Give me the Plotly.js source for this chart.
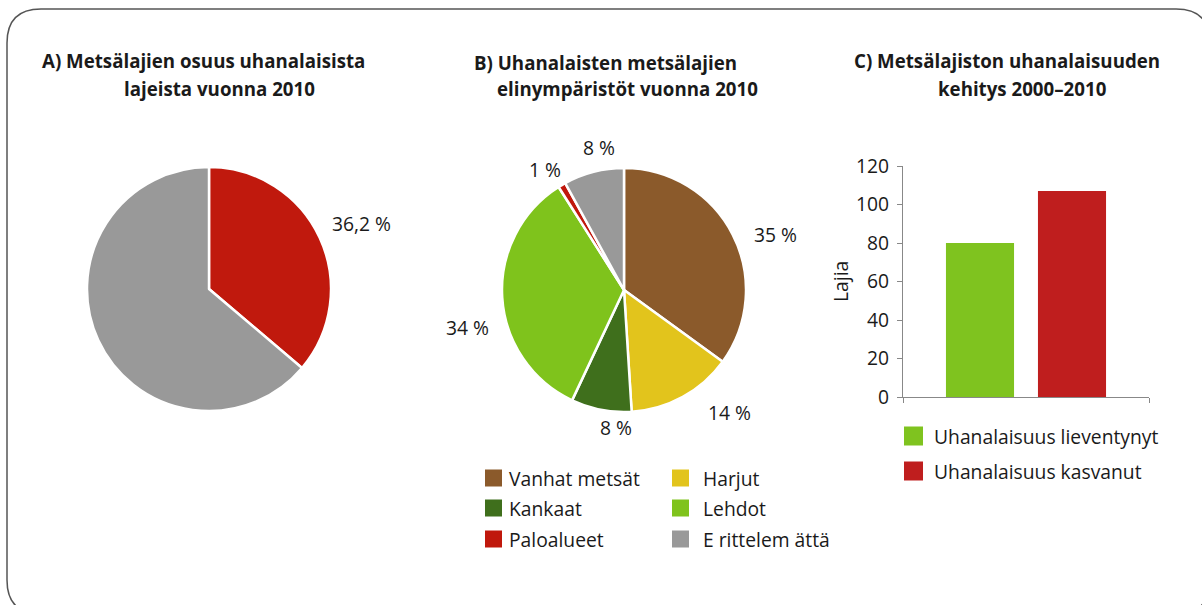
<!DOCTYPE html>
<html>
<head>
<meta charset="utf-8">
<script src="https://cdn.plot.ly/plotly-3.0.1.min.js"></script>
<style>html,body{margin:0;padding:0;background:#fff;}#chart{width:1202px;height:605px;}</style>
</head>
<body>
<div id="chart"></div>
<script>
// ---- data ----
const titleA = ['A) Metsälajien osuus uhanalaisista', 'lajeista vuonna 2010'];
const titleB = ['B) Uhanalaisten metsälajien', 'elinympäristöt vuonna 2010'];
const titleC = ['C) Metsälajiston uhanalaisuuden', 'kehitys 2000–2010'];

const pieALabels = ['Metsälajit', 'Muut uhanalaiset lajit'];
const pieAValues = [36.2, 63.8];
const pieAColors = ['#C0190D', '#999999'];

const pieBLabels = ['Vanhat metsät', 'Harjut', 'Kankaat', 'Lehdot', 'Paloalueet', 'E rittelem ättä'];
const pieBValues = [35, 14, 8, 34, 1, 8];
const pieBColors = ['#8B5A2B', '#E2C41C', '#3F6F1C', '#7FC31C', '#C0180C', '#999999'];

const barNames = ['Uhanalaisuus lieventynyt', 'Uhanalaisuus kasvanut'];
const barValues = [80, 107];
const barColors = ['#7FC31F', '#BF1E1E'];
const yTickVals = [0, 20, 40, 60, 80, 100, 120];
const yTitle = 'Lajia';

// ---- helpers (pixel -> paper) ----
const W = 1202, H = 605;
const px = x => x / W;
const py = y => 1 - y / H;
const FONT = '"Open Sans", sans-serif';
const TXT = '#1a1a1a';
const FS = 19.3;

const traces = [];
traces.push({
  type: 'pie', labels: pieALabels, values: pieAValues, sort: false, direction: 'clockwise', rotation: 0,
  marker: {colors: pieAColors, line: {color: '#ffffff', width: 2.5}},
  textinfo: 'none', hoverinfo: 'label+percent', showlegend: false,
  domain: {x: [px(87), px(331)], y: [py(411), py(167)]}
});
traces.push({
  type: 'pie', labels: pieBLabels, values: pieBValues, sort: false, direction: 'clockwise', rotation: 0,
  marker: {colors: pieBColors, line: {color: '#ffffff', width: 2.5}},
  textinfo: 'none', hoverinfo: 'label+percent', showlegend: false,
  domain: {x: [px(502), px(746)], y: [py(412), py(168)]}
});
barNames.forEach((n, i) => {
  traces.push({
    type: 'bar', name: n, x: [0], y: [barValues[i]], marker: {color: barColors[i]},
    xaxis: 'x', yaxis: 'y', showlegend: false
  });
});

const annotations = [];
function addText(text, x, y, opts) {
  annotations.push(Object.assign({
    text: text, x: px(x), y: py(y), xref: 'paper', yref: 'paper', showarrow: false,
    xanchor: 'center', yanchor: 'middle', font: {family: FONT, size: FS, color: TXT}
  }, opts || {}));
}
// titles
const titleFont = {family: FONT, size: 18.7, color: TXT, weight: 'bold'};
addText('<b>' + titleA[0] + '</b>', 203, 61, {font: titleFont});
addText('<b>' + titleA[1] + '</b>', 219, 88, {font: titleFont});
addText('<b>' + titleB[0] + '</b>', 605, 62, {font: titleFont});
addText('<b>' + titleB[1] + '</b>', 627, 88, {font: titleFont});
addText('<b>' + titleC[0] + '</b>', 1007, 61, {font: titleFont});
addText('<b>' + titleC[1] + '</b>', 1022, 88, {font: titleFont});

// pie A label
addText(pieAValues[0].toString().replace('.', ',') + ' %', 361, 224);
// pie B labels
const pieBLabelPos = [[775, 234], [729, 412], [616, 427], [467, 328], [545, 170], [599, 148]];
pieBValues.forEach((v, i) => addText(v + ' %', pieBLabelPos[i][0], pieBLabelPos[i][1]));

// y axis title
addText(yTitle, 840, 282, {textangle: -90});

const shapes = [];
// legend B (two columns)
pieBLabels.forEach((lab, i) => {
  const col = i % 2, row = Math.floor(i / 2);
  const sx = col === 0 ? 485 : 672;
  const tx = col === 0 ? 507 : 701;
  const cy = [478, 508, 539][row];
  shapes.push({type: 'rect', xref: 'paper', yref: 'paper', x0: px(sx), x1: px(sx + 17), y0: py(cy + 8.5), y1: py(cy - 8.5),
    fillcolor: pieBColors[i], line: {width: 0}});
  addText(lab, tx, cy, {xanchor: 'left'});
});
// legend C
barNames.forEach((n, i) => {
  const cy = [436, 471][i];
  shapes.push({type: 'rect', xref: 'paper', yref: 'paper', x0: px(904), x1: px(923), y0: py(cy + 9.5), y1: py(cy - 9.5),
    fillcolor: barColors[i], line: {width: 0}});
  addText(n, 932, cy, {xanchor: 'left'});
});

// rounded border
(function () {
  const l = 7, t = 9, r = 1210, b = 614, rad = 34;
  const p = (x, y) => px(x) + ',' + py(y);
  const path = 'M ' + p(l + rad, t) + ' L ' + p(r - rad, t) + ' Q ' + p(r, t) + ' ' + p(r, t + rad) +
    ' L ' + p(r, b - rad) + ' Q ' + p(r, b) + ' ' + p(r - rad, b) + ' L ' + p(l + rad, b) +
    ' Q ' + p(l, b) + ' ' + p(l, b - rad) + ' L ' + p(l, t + rad) + ' Q ' + p(l, t) + ' ' + p(l + rad, t) + ' Z';
  shapes.push({type: 'path', xref: 'paper', yref: 'paper', path: path, line: {color: '#555555', width: 1.5}, fillcolor: 'rgba(0,0,0,0)', layer: 'below'});
})();

const layout = {
  width: W, height: H, margin: {l: 0, r: 0, t: 0, b: 0},
  paper_bgcolor: '#ffffff', plot_bgcolor: 'rgba(0,0,0,0)',
  font: {family: FONT, size: FS, color: TXT},
  showlegend: false, barmode: 'group', bargap: 0.252, bargroupgap: 0.26,
  xaxis: {domain: [px(903), px(1149)], range: [-0.5, 0.5], tickvals: [-0.5, 0.5], showticklabels: false,
    ticks: 'outside', ticklen: 5, tickcolor: '#888888', showline: true, linecolor: '#888888', linewidth: 1,
    showgrid: false, zeroline: false, fixedrange: true},
  yaxis: {domain: [py(397), py(166)], range: [0, 120], tickvals: yTickVals, ticks: 'outside', ticklen: 5,
    tickcolor: '#888888', showline: true, linecolor: '#888888', linewidth: 1, showgrid: false, zeroline: false,
    tickfont: {family: FONT, size: FS, color: TXT}, ticklabelstandoff: 4, fixedrange: true},
  annotations: annotations, shapes: shapes
};

Plotly.newPlot('chart', traces, layout, {displayModeBar: false, staticPlot: true});
</script>
</body>
</html>
